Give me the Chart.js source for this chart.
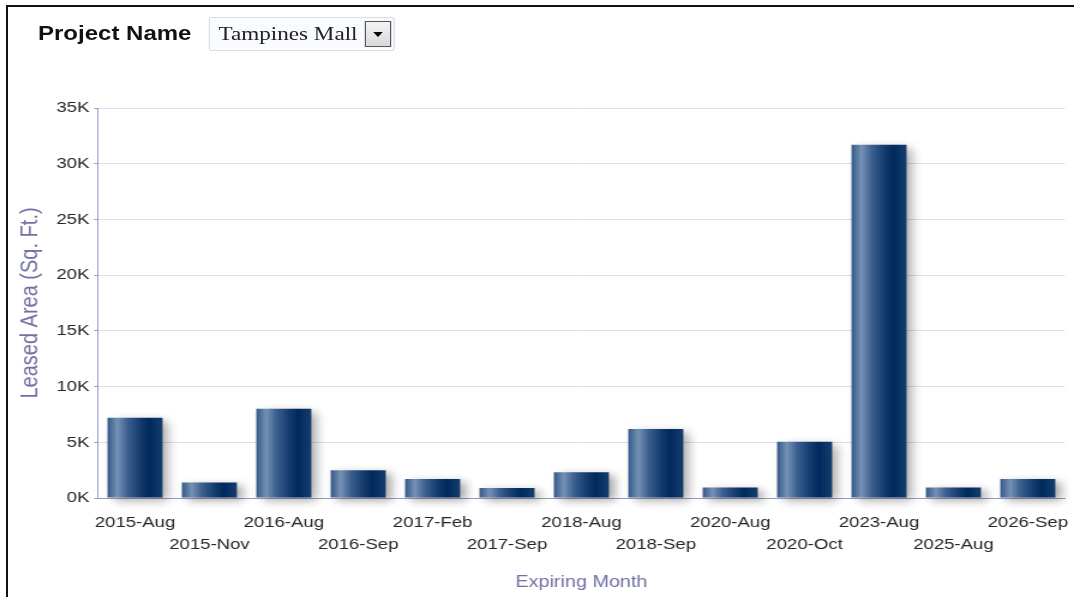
<!DOCTYPE html>
<html>
<head>
<meta charset="utf-8">
<script src="https://cdn.jsdelivr.net/npm/chart.js@4.4.1/dist/chart.umd.min.js"></script>
<style>
  html, body { margin: 0; padding: 0; background: #fff; }
  body { width: 1074px; height: 597px; position: relative; overflow: hidden; }
  #frame { position: absolute; left: 6px; top: 5px; right: -10px; bottom: -10px;
           border-left: 2px solid #111; border-top: 2px solid #111; }
  #chart { position: absolute; left: 0; top: 0; }
  #header { position: absolute; left: 0; top: 0; width: 895px; height: 60px;
            transform: scaleX(1.2); transform-origin: 0 0; z-index: 2; }
  #lbl { position: absolute; left: 31.7px; top: 22px; font: bold 20px "Liberation Sans", Arial, sans-serif; color: #111; }
  #sel { position: absolute; left: 174px; top: 17px; width: 155px; height: 34px; box-sizing: border-box;
         border: 1px solid #d8dde6; border-radius: 2px; background: #f9fbff; }
  #sel span { position: absolute; left: 7px; top: 5px; font: 19.3px "Liberation Serif", "Times New Roman", serif; color: #222; }
  #btn { position: absolute; right: 2px; top: 3px; width: 22px; height: 26px; box-sizing: border-box;
         border: 1px solid #555; background: linear-gradient(#f4f4f4, #d9d9d9); }
  #btn:after { content: ""; position: absolute; left: 6px; top: 10px; border-left: 4px solid transparent;
               border-right: 4px solid transparent; border-top: 5px solid #000; }
</style>
</head>
<body>
<div id="frame"></div>
<div id="header">
  <div id="lbl">Project Name</div>
  <div id="sel"><span>Tampines Mall</span><div id="btn"></div></div>
</div>
<canvas id="chart" width="895" height="597" style="width:1074px;height:597px"></canvas>
<script>
const months = ['2015-Aug', '2015-Nov', '2016-Aug', '2016-Sep', '2017-Feb', '2017-Sep', '2018-Aug',
                '2018-Sep', '2020-Aug', '2020-Oct', '2023-Aug', '2025-Aug', '2026-Sep']
const leasedArea = [7200, 1400, 8000, 2500, 1700, 900, 2300, 6200, 950, 5050, 31700, 950, 1700]
const yMax = 35000
const yStep = 5000

const barStops = [
  [0, '#34588a'], [0.18, '#7592b4'], [0.36, '#3d6191'],
  [0.6, '#133b6c'], [0.76, '#002a5e'], [1, '#163d6d']
]

const barLook = {
  id: 'barLook',
  beforeDatasetsDraw(chart) {
    const ctx = chart.ctx
    chart.getDatasetMeta(0).data.forEach(bar => {
      const g = ctx.createLinearGradient(bar.x - bar.width / 2, 0, bar.x + bar.width / 2, 0)
      barStops.forEach(s => g.addColorStop(s[0], s[1]))
      bar.options = Object.assign({}, bar.options, { backgroundColor: g })
    })
    ctx.save()
    ctx.shadowColor = 'rgba(0, 0, 0, 0.35)'
    ctx.shadowBlur = 9
    ctx.shadowOffsetX = 5
    ctx.shadowOffsetY = 3
  },
  afterDatasetsDraw(chart) {
    chart.ctx.restore()
  }
}

const fam = '"Liberation Sans", Arial, sans-serif'

new Chart(document.getElementById('chart'), {
  type: 'bar',
  data: {
    labels: months,
    datasets: [{
      data: leasedArea,
      backgroundColor: '#0a3364',
      categoryPercentage: 1,
      barPercentage: 0.74,
      clip: false
    }]
  },
  options: {
    responsive: false,
    animation: false,
    devicePixelRatio: 1,
    layout: { padding: { left: 9, right: 7.5, top: 108, bottom: 0 } },
    plugins: { legend: { display: false }, tooltip: { enabled: false } },
    scales: {
      x: {
        afterFit(scale) {
          scale.height = 99
          scale.paddingLeft = 0
          scale.paddingRight = 0
        },
        grid: { display: false, drawTicks: false },
        border: { display: true, color: '#9a9ac6', width: 1 },
        ticks: {
          autoSkip: false, maxRotation: 0, minRotation: 0, padding: 14,
          color: '#262626', font: { family: fam, size: 15.5, lineHeight: 1.42 },
          callback(v, i) { return i % 2 ? ['', months[i]] : months[i] }
        },
        title: { display: true, text: 'Expiring Month', color: '#7070a2', font: { family: fam, size: 16.5 }, padding: 5 }
      },
      y: {
        min: 0, max: yMax,
        afterFit(scale) { scale.width = 72.5 },
        grid: { color: '#dfdfec', tickColor: '#9a9ac6', tickLength: 3 },
        border: { display: true, color: '#9a9ac6', width: 1 },
        ticks: {
          stepSize: yStep, padding: 4, color: '#262626', font: { family: fam, size: 15.5 },
          callback(v) { return (v / 1000) + 'K' }
        },
        title: { display: true, text: 'Leased Area (Sq. Ft.)', color: '#7070a2', font: { family: fam, size: 20 }, padding: 4 }
      }
    }
  },
  plugins: [barLook]
})
</script>
</body>
</html>
